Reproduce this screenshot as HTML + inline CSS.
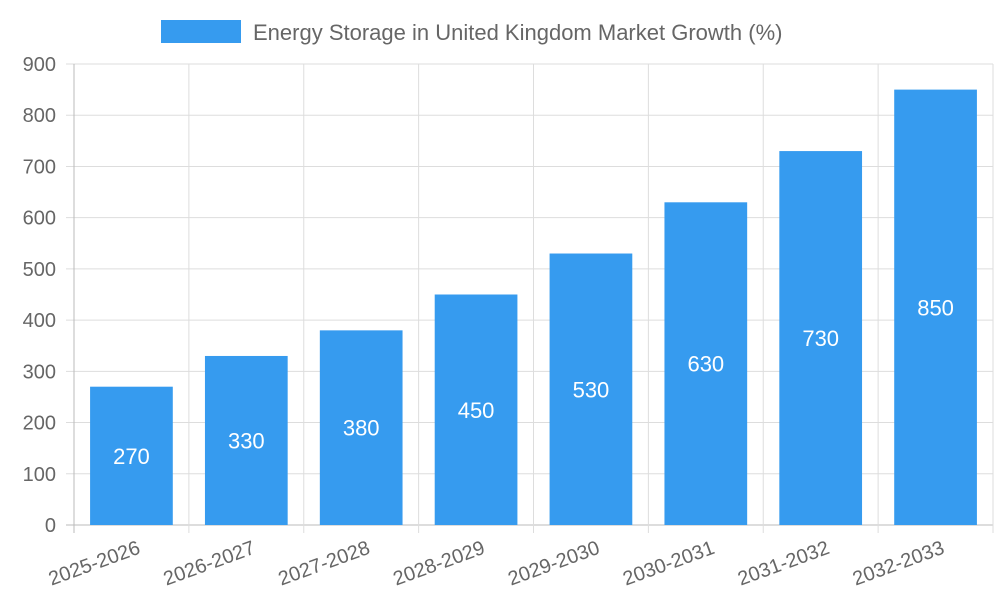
<!DOCTYPE html>
<html><head><meta charset="utf-8"><style>
body{margin:0;background:#fff;}
svg{display:block;font-family:"Liberation Sans",sans-serif;}
</style></head><body>
<svg id="chart" width="1000" height="600">
<g id="legend">
<rect x="161" y="20" width="80" height="23" fill="#369bef"/>
<text x="253" y="40" font-size="22" fill="#666">Energy Storage in United Kingdom Market Growth (%)</text>
</g>
<g id="grid"></g><g id="bars"></g><g id="axes"></g>
</svg>
<script>
const categories=["2025-2026","2026-2027","2027-2028","2028-2029","2029-2030","2030-2031","2031-2032","2032-2033"];
const values=[270,330,380,450,530,630,730,850];
const yTicks=[0,100,200,300,400,500,600,700,800,900];
const NS="http://www.w3.org/2000/svg";
const L=74,R=993,T=64,B=525,yMax=900;
const y=v=>B-(v/yMax)*(B-T);
const bw=(R-L)/categories.length;
const x=i=>L+i*bw;
function mk(tag,attrs,parent){const e=document.createElementNS(NS,tag);for(const k in attrs)e.setAttribute(k,attrs[k]);parent.appendChild(e);return e;}
const grid=document.getElementById('grid'),bars=document.getElementById('bars'),axes=document.getElementById('axes');
yTicks.forEach(t=>{
 const l=mk('line',{x1:L-8,x2:R,y1:y(t),y2:y(t),stroke:t===0?'#bbb':'#ddd','stroke-width':1},grid);
 
 
 const tx=mk('text',{x:L-18,y:y(t)+7,'text-anchor':'end','font-size':20,fill:'#666'},axes);
 tx.textContent=t;
 
 
});
for(let i=0;i<=categories.length;i++){
 const l=mk('line',{x1:x(i),x2:x(i),y1:T,y2:B+8,stroke:i===0?'#bbb':'#ddd','stroke-width':1},grid);
 
 
}
categories.forEach((c,i)=>{
 const bx=x(i)+bw*0.14,w=bw*0.72;
 const r=mk('rect',{x:bx,y:y(values[i]),width:w,height:B-y(values[i]),fill:'#369bef'},bars);
 
 
 const vt=mk('text',{x:bx+w/2,y:(y(values[i])+B)/2+8,'text-anchor':'middle','font-size':22,fill:'#fff'},bars);
 vt.textContent=values[i];
 
 
 const cx=x(i)+bw/2+10,cy=B+28;
 const lt=mk('text',{x:cx,y:cy,'text-anchor':'end','font-size':20,fill:'#666',transform:`rotate(-20 ${cx} ${cy})`},axes);
 lt.textContent=c;
 
 
});
</script>
</body></html>
